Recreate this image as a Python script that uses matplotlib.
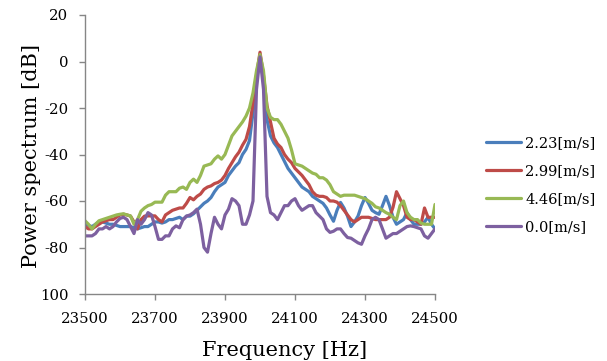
import numpy as np
import matplotlib
matplotlib.use("Agg")
import matplotlib.pyplot as plt

# ---------------- data ----------------
freq_start = 23500
freq_step = 10
n_points = 101
frequency = [freq_start + freq_step * i for i in range(n_points)]

series_labels = ["2.23[m/s]", "2.99[m/s]", "4.46[m/s]", "0.0[m/s]"]

v_2_23 = [-70, -70.5, -71, -70, -69, -69, -69.5, -70, -70, -70.5,
          -71, -71, -71, -71, -71.5, -72, -71.5, -71, -71, -70,
          -69, -69, -69.5, -69, -68, -68, -67.5, -67, -68, -66.5,
          -66.5, -65.5, -64, -62.5, -61, -60, -58.5, -56, -54, -53,
          -52, -49, -47, -45, -43.5, -40, -37.8, -34, -22, -8,
          2.5, -8, -25, -32, -35, -37, -40, -43, -46, -48,
          -50, -52, -54, -55, -56, -58, -59, -60, -61, -63,
          -66, -68.7, -64, -60.6, -63, -66.5, -71, -69, -66.5, -62,
          -58.5, -61, -64, -65, -65.7, -62, -58, -62, -67, -70,
          -69, -68, -65, -68, -70, -70, -70, -69, -67, -70,
          -72]

v_2_99 = [-71, -72, -72, -71, -70, -69, -68.5, -68, -68, -67,
          -66, -65.7, -66, -66.5, -69, -72, -68, -66.5, -66.4, -66.4,
          -66.4, -68, -69, -66, -65, -64, -63.5, -63, -63, -61,
          -58.5, -59.5, -58, -57, -55, -54, -53.5, -52.5, -52, -51,
          -49, -46, -43.5, -41, -39, -36, -33.5, -28, -18, -6,
          4, -6, -19, -26, -33, -35.5, -37, -40, -42, -43.5,
          -46, -47.5, -49, -51, -53, -56, -57.5, -58, -58, -58.5,
          -60, -60, -60.5, -62, -64, -66, -68, -69, -68, -67,
          -67, -67, -67.5, -68, -68, -68, -68, -67, -62.7, -56,
          -59, -62, -67, -68, -68, -69, -70, -63, -67, -67,
          -67]

v_4_46 = [-68.5, -70, -72, -70, -68.5, -68, -67.5, -67, -66.5, -66,
          -65.7, -65.5, -66, -66.4, -70, -68, -64.4, -63, -62, -61.5,
          -60.5, -60.5, -60.5, -57.5, -56, -56, -56, -54.5, -54, -55,
          -52, -50.6, -52, -49, -45, -44.5, -44, -42, -40.6, -42,
          -40, -36, -32, -30, -28, -26, -23.5, -20, -13.5, -4,
          3, -4, -20, -24, -25, -25, -27, -30, -33, -38,
          -44, -44.5, -45, -46, -47, -48, -48.5, -50, -50, -51,
          -53, -56, -57, -58, -57.5, -57.5, -57.5, -57.5, -58, -58.5,
          -59, -60, -61, -62.5, -63, -64, -65, -65.7, -67, -68,
          -62, -60, -65, -67, -68, -68, -69.5, -70, -70, -70,
          -61.5]

v_0_0 = [-75, -75, -75, -74, -72, -72, -71, -72, -71, -69,
         -67.5, -67, -68, -71, -74, -68, -70, -68, -65, -66,
         -71, -76.5, -76.5, -75, -75, -72, -70.7, -71.5, -68, -66.5,
         -66, -65, -63.5, -70, -80, -82, -74, -67, -70, -72,
         -66, -63.5, -59, -60, -62, -70, -70, -66, -60, -12,
         2, -12, -58, -65, -66, -68, -65, -62, -62, -60,
         -59, -62, -64, -63, -62, -62, -65, -66.5, -68, -72,
         -73.5, -73, -72, -72, -74, -75.7, -76, -77, -78, -78.6,
         -75, -72, -68, -67, -68, -72, -76, -75, -74, -74,
         -73, -72, -71, -70.7, -71, -71.5, -72, -75, -76, -74,
         -72]

x_ticks = [23500, 23700, 23900, 24100, 24300, 24500]
y_ticks = [-100, -80, -60, -40, -20, 0, 20]
y_tick_labels = ["100", "-80", "-60", "-40", "-20", "0", "20"]

x_label = "Frequency [Hz]"
y_label = "Power spectrum [dB]"

# ---------------- style ----------------
colors = ["#4A7EBB", "#BE4B48", "#98B954", "#7D60A0"]
plt.rcParams["font.family"] = ["DejaVu Serif"]

fig = plt.figure(figsize=(6.07, 3.61), dpi=100)
W, H = 607, 361
ax = fig.add_axes([85 / W, 1 - 294 / H, 350 / W, 279 / H])

all_series = [v_2_23, v_2_99, v_4_46, v_0_0]
for vals, lab, col in zip(all_series, series_labels, colors):
    ax.plot(frequency, vals, color=col, lw=2.3, label=lab,
            solid_joinstyle="round", solid_capstyle="round")

ax.set_xlim(23500, 24500)
ax.set_ylim(-100, 20)
ax.set_xticks(x_ticks)
ax.set_yticks(y_ticks)
ax.set_yticklabels(y_tick_labels)

for s in ["top", "right"]:
    ax.spines[s].set_visible(False)
for s in ["left", "bottom"]:
    ax.spines[s].set_color("#868686")
    ax.spines[s].set_linewidth(1.0)

ax.tick_params(axis="both", direction="out", length=4, width=1.0,
               color="#868686", labelsize=10.7, labelcolor="black")
ax.tick_params(axis="x", pad=9)
ax.tick_params(axis="y", pad=8)

fig.text(284.5 / W, 1 - 356 / H, x_label, ha="center", va="baseline",
         fontsize=15)
fig.text(37 / W, 1 - 156.5 / H, y_label, ha="center", va="baseline",
         rotation=90, rotation_mode="anchor", fontsize=15)

leg = ax.legend(loc="center left", bbox_to_anchor=(486 / W, 1 - 185 / H),
                bbox_transform=fig.transFigure, frameon=False,
                fontsize=10.5, handlelength=2.4, handletextpad=0.3,
                labelspacing=0.95, borderpad=0, borderaxespad=0)

fig.savefig("out.png", dpi=100)
